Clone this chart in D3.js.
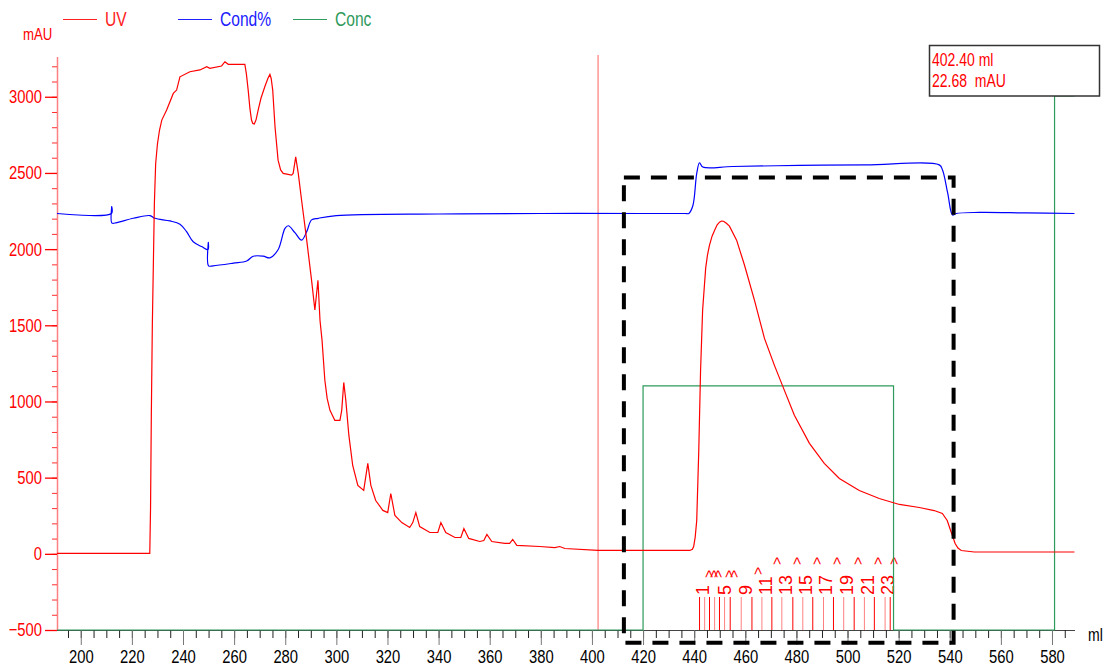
<!DOCTYPE html>
<html>
<head>
<meta charset="utf-8">
<script src="https://cdn.jsdelivr.net/npm/d3@7"></script>
<style>
  body { margin: 0; background: #fff; }
  svg text { font-family: "Liberation Sans", Arial, sans-serif; }
</style>
</head>
<body>
<svg id="chrom" width="1106" height="668"></svg>
<script>
// UV trace (ml, mAU)
const uvMl  = [190.7, 227.0, 227.3, 227.6, 228.0, 228.4, 228.8, 229.3, 230.0, 230.8, 231.7, 233.6, 236.2, 237.5, 238.8, 242.7,
               246.6, 249.3, 250.5, 255.1, 256.4, 257.7, 264.2, 264.8, 265.5, 266.2, 266.8, 267.3, 267.9, 268.6, 269.4, 270.5,
               272.0, 273.2, 274.0, 274.5, 275.1, 276.0, 277.2, 278.2, 279.2, 282.5, 283.1, 284.1, 285.1, 286.4, 288.4, 290.3,
               291.6, 292.8, 293.6, 294.4, 295.5, 296.4, 297.5, 299.4, 301.4, 302.1, 302.9, 303.7, 304.9, 306.4, 308.4, 310.7,
               312.3, 313.5, 315.4, 318.2, 320.1, 321.3, 322.9, 325.6, 328.7, 329.9, 331.1, 332.6, 336.6, 339.7, 340.9, 342.8,
               346.4, 348.7, 349.9, 351.8, 356.1, 357.7, 358.9, 360.8, 365.9, 367.8, 369.0, 370.6, 379.6, 385.5, 387.4, 389.4,
               402.4, 422.6, 438.3, 439.3, 439.8, 440.4, 441.0, 441.8, 442.5, 443.3, 444.5, 445.2, 446.0, 447.0, 448.0, 449.0,
               449.9, 450.7, 451.5, 452.6, 453.8, 456.6, 459.7, 463.6, 467.5, 471.4, 475.3, 479.2, 485.1, 490.9, 496.8, 504.6,
               512.4, 520.3, 528.1, 533.9, 537.1, 539.0, 540.6, 542.1, 543.2, 544.5, 549.6, 588.8];
const uvMau = [3, 3, 300, 900, 1500, 1900, 2300, 2560, 2690, 2780, 2847, 2913, 3022, 3044, 3131, 3164,
               3176, 3197, 3187, 3202, 3230, 3213, 3213, 3150, 3044, 2920, 2847, 2825, 2821, 2850, 2913, 2990,
               3066, 3120, 3147, 3120, 3044, 2803, 2584, 2520, 2497, 2486, 2497, 2606, 2497, 2321, 2059, 1796,
               1600, 1796, 1533, 1401, 1139, 1020, 942, 876, 876, 942, 1125, 1007, 777, 580, 449, 416,
               594, 449, 350, 285, 271, 396, 252, 205, 173, 205, 271, 179, 140, 140, 205, 140,
               107, 107, 166, 101, 81, 87, 127, 81, 68, 68, 94, 55, 48, 41, 48, 35,
               22.68, 22, 22, 30, 48, 110, 219, 679, 1204, 1598, 1875, 1960, 2026, 2085, 2124, 2160,
               2177, 2184, 2183, 2170, 2151, 2059, 1894, 1664, 1414, 1237, 1073, 909, 725, 593, 495, 416,
               363, 324, 304, 284, 265, 219, 140, 68, 38, 22, 12, 12];

// Conductivity trace (ml, %)
const condMl  = [190.7, 212.0, 212.1, 212.2, 214.1, 220.6, 227.1, 229.0, 234.9, 238.8, 241.4, 244.0, 247.3, 249.8, 249.9,
                 250.0, 251.8, 259.7, 264.9, 267.5, 271.4, 274.0, 277.2, 279.9, 281.2, 283.8, 286.4, 288.4, 290.3, 292.9,
                 300.0, 340.0, 380.0, 420.0, 436.5, 437.9, 439.5, 441.0, 442.1, 443.4, 455.0, 481.2, 507.3, 535.9, 537.2,
                 539.2, 541.1, 542.5, 551.6, 570.0, 588.8];
const condPct = [78.0, 78.0, 79.3, 76.2, 76.3, 77.1, 77.6, 77.1, 76.6, 76.0, 74.6, 72.7, 71.8, 71.2, 72.6,
                 68.2, 68.2, 68.7, 69.1, 70.0, 70.0, 69.7, 71.2, 75.2, 75.7, 74.4, 73.0, 74.6, 76.8, 77.1,
                 77.6, 77.9, 78.0, 78.0, 78.0, 78.0, 79.5, 85.5, 87.5, 86.7, 86.8, 87.0, 87.1, 87.1, 86.1,
                 81.8, 77.7, 78.0, 78.2, 78.1, 78.0];

// Concentration (ml, %B)
const concMl  = [190.7, 420.0, 420.0, 518.0, 518.0, 581.0, 581.0, 588.8];
const concPct = [0, 0, 45.7, 45.7, 0, 0, 100, 100];

// fraction marks
const fracMl     = [442.1, 444.1, 446.0, 448.0, 449.9, 451.9, 454.1, 458.4, 462.6, 466.5, 470.4, 474.3, 478.6, 482.5,
                    486.4, 490.6, 494.5, 498.5, 502.6, 506.6, 510.5, 514.7, 516.7];
const fracLabels = ["1", "5", "9", "11", "13", "15", "17", "19", "21", "23"];
const fracLabelMl = [443.4, 451.9, 460.0, 467.9, 475.7, 483.6, 491.6, 499.8, 507.9, 515.7];
const fracArrowMl  = [446.0, 447.8, 449.5, 453.6, 455.6, 465.0, 472.4, 480.2, 488.0, 495.8, 504.2, 512.0, 518.3];
const fracArrowRow = [2, 2, 2, 2, 2, 1, 0, 0, 0, 0, 0, 0, 0];

// cursor + highlight box
const cursorMl = 402.4, cursorMau = 22.68;
const boxMl = [412.5, 541.5], boxMau = [-583, 2470];

const yMajor = d3.range(-500, 3001, 500);
const yMinor = d3.range(-500, 3201, 100);
const xMajor = d3.range(200, 581, 20);
const xMinor = d3.range(195, 589, 5);

const legend = [{name: "UV", color: "#ff2020"}, {name: "Cond%", color: "#2020ff"}, {name: "Conc", color: "#2e9a5c"}];

const svg = d3.select("#chrom");
const x  = d3.scaleLinear().domain([190.7, 589]).range([57, 1075]);
const y  = d3.scaleLinear().domain([-500, 3261]).range([630, 57]);
const yp = d3.scaleLinear().domain([0, 100]).range([630, 96]);

// x axis
svg.append("g")
  .attr("transform", "translate(0,630)")
  .call(d3.axisBottom(x).tickValues(xMinor).tickSize(8).tickFormat(""))
  .call(g => g.selectAll(".tick line").attr("stroke", "#222"))
  .call(g => g.select(".domain").attr("stroke", "#444").attr("d", `M57,0.5H1075`));

svg.append("g")
  .attr("transform", "translate(0,630)")
  .call(d3.axisBottom(x).tickValues(xMajor).tickSize(15).tickPadding(5).tickFormat(d3.format("d")))
  .call(g => g.select(".domain").remove())
  .call(g => g.selectAll(".tick line").attr("stroke", "#777"))
  .call(g => g.selectAll(".tick text").attr("fill", "#000").style("font-size", "18.5px").attr("font-family", null));

svg.append("text").attr("x", 1088).attr("y", 641).style("font-size", "17.5px").attr("fill", "#000").text("ml");

// y axis
svg.append("g")
  .attr("transform", "translate(57,0)")
  .call(d3.axisLeft(y).tickValues(yMinor).tickSize(5).tickFormat(""))
  .call(g => g.selectAll(".tick line").attr("stroke", "#ff3030"))
  .call(g => g.select(".domain").attr("stroke", "#ff8080").attr("stroke-width", 1.5).attr("d", "M0.5,57V630"));

svg.append("g")
  .attr("transform", "translate(57,0)")
  .call(d3.axisLeft(y).tickValues(yMajor).tickSize(12).tickPadding(3).tickFormat(d3.format("d")))
  .call(g => g.select(".domain").remove())
  .call(g => g.selectAll(".tick line").attr("stroke", "#ff0000").attr("stroke-width", 1.3))
  .call(g => g.selectAll(".tick text").attr("fill", "#ff0000").style("font-size", "18.5px").attr("font-family", null));

svg.append("text").attr("x", 23).attr("y", 40).attr("fill", "#ff0000").style("font-size", "16.5px").text("mAU");

// legend
const lg = svg.selectAll(".lg").data(legend).enter().append("g")
  .attr("class", "lg")
  .attr("transform", (d, i) => `translate(${63 + i * 115},0)`);
lg.append("line").attr("x1", 0).attr("x2", 34).attr("y1", 19.5).attr("y2", 19.5)
  .attr("stroke", d => d.color).attr("stroke-width", 1);
lg.append("text").attr("x", 42).attr("y", 26).attr("fill", d => d.color)
  .style("font-size", "19.5px").text(d => d.name);

// cursor line
svg.append("line")
  .attr("x1", x(cursorMl)).attr("x2", x(cursorMl)).attr("y1", 55).attr("y2", 630)
  .attr("stroke", "#ff6060").attr("stroke-width", 1);

// fraction lines
svg.selectAll(".frac").data(fracMl).enter().append("line")
  .attr("class", "frac")
  .attr("x1", d => x(d)).attr("x2", d => x(d))
  .attr("y1", 597).attr("y2", 630)
  .attr("stroke", (d, i) => i % 2 ? "#ff8080" : "#ff0000")
  .attr("stroke-width", 1);

svg.selectAll(".fracLabel").data(fracLabels).enter().append("text")
  .attr("class", "fracLabel keep")
  .attr("transform", (d, i) => `translate(${x(fracLabelMl[i])},595) rotate(-90)`)
  .attr("dy", "0.35em")
  .attr("fill", "#ff0000")
  .style("font-size", "18px")
  .text(d => d);

svg.selectAll(".fracArrow").data(fracArrowMl).enter().append("text")
  .attr("class", "fracArrow keep")
  .attr("transform", (d, i) => `translate(${x(d)},${[565, 575, 578][fracArrowRow[i]]}) rotate(-90)`)
  .attr("dy", "0.35em")
  .attr("fill", "#ff0000")
  .style("font-size", "14px")
  .text(">");

// traces
const line = (xs, ys, sy, curve) => d3.line().curve(curve).x((d, i) => x(xs[i])).y((d, i) => sy(ys[i]))(xs);

svg.append("path").attr("d", line(concMl, concPct, yp, d3.curveLinear))
  .attr("fill", "none").attr("stroke", "#2e9a5c").attr("stroke-width", 1.2);
svg.append("path").attr("d", line(condMl, condPct, yp, d3.curveCatmullRom.alpha(0.5)))
  .attr("fill", "none").attr("stroke", "#0000ff").attr("stroke-width", 1.2);
svg.append("path").attr("d", line(uvMl, uvMau, y, d3.curveLinear))
  .attr("fill", "none").attr("stroke", "#ff0000").attr("stroke-width", 1.2);

// highlight box
svg.append("rect")
  .attr("x", x(boxMl[0])).attr("y", y(boxMau[1]))
  .attr("width", x(boxMl[1]) - x(boxMl[0]))
  .attr("height", y(boxMau[0]) - y(boxMau[1]))
  .attr("fill", "none").attr("stroke", "#000").attr("stroke-width", 4)
  .attr("stroke-dasharray", "16,11");

// cursor readout
svg.append("rect").attr("x", 929.5).attr("y", 45.5).attr("width", 170).attr("height", 50.5)
  .attr("fill", "#fff").attr("stroke", "#333").attr("stroke-width", 1.5);
svg.append("text").attr("x", 932).attr("y", 66).attr("fill", "#ff0000").style("font-size", "17.5px")
  .text(d3.format(".2f")(cursorMl) + " ml");
svg.append("text").attr("x", 932).attr("y", 87).attr("fill", "#ff0000").style("font-size", "17.5px")
  .style("white-space", "pre")
  .text(d3.format(".2f")(cursorMau) + "  mAU");

// the original uses a narrow face: squeeze the labels horizontally
svg.selectAll("text:not(.keep)").each(function() {
  const w = this.getComputedTextLength();
  if (w > 0) {
    this.setAttribute("textLength", w * 0.8);
    this.setAttribute("lengthAdjust", "spacingAndGlyphs");
  }
});
</script>
</body>
</html>
